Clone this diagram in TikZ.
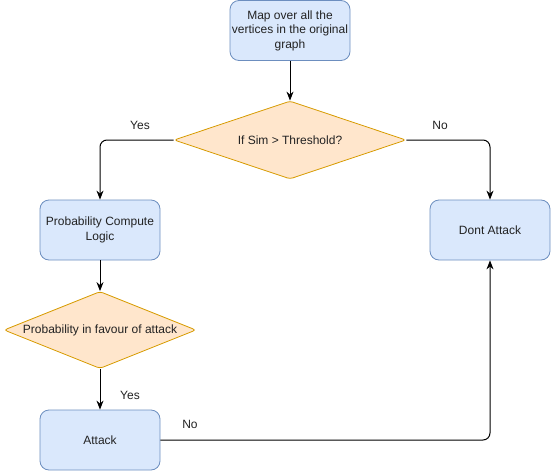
\documentclass[tikz,border=0pt]{standalone}
\usepackage{fontspec}
\setmainfont{Liberation Sans}
\usetikzlibrary{shapes.geometric,arrows.meta}
\definecolor{bfill}{HTML}{DAE8FC}
\definecolor{bdraw}{HTML}{6C8EBF}
\definecolor{ofill}{HTML}{FFE6CC}
\definecolor{odraw}{HTML}{D79B00}
\definecolor{txt}{HTML}{222222}
\tikzset{
  procbox/.style={draw=bdraw, fill=bfill, line width=0.8pt, rounded corners=9pt,
    minimum width=120pt, minimum height=60pt, inner sep=0pt, align=center,
    text=txt, font=\fontsize{12}{14.5}\selectfont},
  decision/.style={diamond, draw=odraw, fill=ofill, line width=0.8pt, rounded corners=3pt,
    inner sep=0pt, label={[text=txt, font=\fontsize{12}{14.5}\selectfont]center:#1}},
  conn/.style={line width=1pt, rounded corners=7pt, -{Stealth[length=9pt,width=7pt]}},
  lbl/.style={text=txt, font=\fontsize{12}{14.5}\selectfont},
}
\begin{document}
\begin{tikzpicture}[x=1pt,y=-1pt]
\useasboundingbox (0,0) rectangle (551,471);
\node[procbox] (map) at (290,30.5) {Map over all the\\vertices in the original\\graph};
\node[decision={If Sim > Threshold?}, minimum width=232pt, minimum height=78pt] (d1) at (290,140) {};
\node[procbox] (pcl) at (100,230) {Probability Compute\\Logic};
\node[procbox] (dont) at (490,230) {Dont Attack};
\node[decision={Probability in favour of attack}, minimum width=192pt, minimum height=77pt] (d2) at (100,330) {};
\node[procbox] (att) at (100,440) {Attack};

\draw[conn] (map.south) -- (d1.north);
\draw[conn] (d1.west) -| (pcl.north);
\draw[conn] (d1.east) -| (dont.north);
\draw[conn] (pcl.south) -- (d2.north);
\draw[conn] (d2.south) -- (att.north);
\draw[conn] (att.east) -| (dont.south);

\node[lbl] (yes1) at (140,125) {Yes};
\node[lbl] (no1) at (440,125) {No};
\node[lbl] (yes2) at (130,395) {Yes};
\node[lbl] (no2) at (190,424) {No};
\end{tikzpicture}
\end{document}
